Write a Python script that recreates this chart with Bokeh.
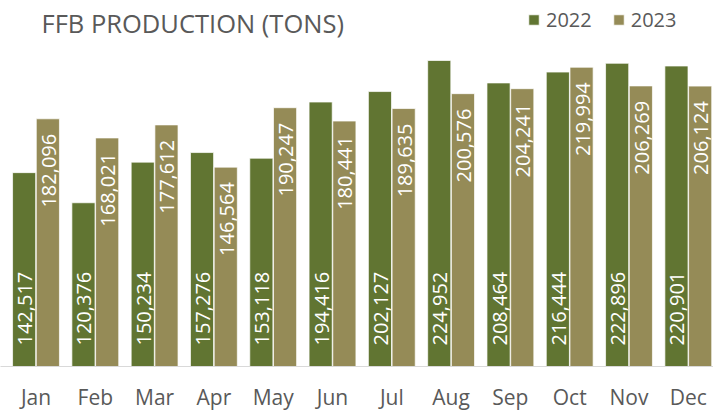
import math
from bokeh.plotting import figure
from bokeh.models import Range1d, FixedTicker, Legend, LegendItem, Label, ColumnDataSource
from bokeh.core.properties import value
from bokeh.embed import file_html
from bokeh.resources import INLINE

months = ["Jan", "Feb", "Mar", "Apr", "May", "Jun", "Jul", "Aug", "Sep", "Oct", "Nov", "Dec"]
prod_2022 = [142517, 120376, 150234, 157276, 153118, 194416, 202127, 224952, 208464, 216444, 222896, 220901]
prod_2023 = [182096, 168021, 177612, 146564, 190247, 180441, 189635, 200576, 204241, 219994, 206269, 206124]
series_names = ["2022", "2023"]
title_text = "FFB PRODUCTION (TONS)"

C22 = "#617532"
C23 = "#958b57"
FONT = "Open Sans"

W, H = 713, 413
FRAME_H = 366
PPU = 59.3
X0 = -35.5 / PPU
X1 = X0 + W / PPU
Y1 = 224952 * FRAME_H / 306.0

def px_x(px):
    return X0 + px / PPU

def px_y(py):
    return (FRAME_H - py) / FRAME_H * Y1

p = figure(frame_width=W, frame_height=FRAME_H, output_backend="svg", toolbar_location=None,
           x_range=Range1d(X0, X1), y_range=Range1d(0, Y1),
           y_axis_location=None, min_border_left=0, min_border_right=0,
           min_border_top=0, min_border_bottom=H - FRAME_H)
p.outline_line_color = None
p.grid.visible = False
p.background_fill_color = "white"
p.border_fill_color = "white"

idx = list(range(len(months)))
src = ColumnDataSource(dict(
    x22=[i - 0.2 for i in idx], x23=[i + 0.2 for i in idx],
    y22=prod_2022, y23=prod_2023,
    l22=[f"{v:,}" for v in prod_2022], l23=[f"{v:,}" for v in prod_2023],
    zero=[0] * len(idx),
))

bw = 0.39
r22 = p.vbar(x="x22", top="y22", width=bw, source=src, fill_color=C22,
             line_color="white", line_alpha=0.7, line_width=1)
r23 = p.vbar(x="x23", top="y23", width=bw, source=src, fill_color=C23,
             line_color="white", line_alpha=0.7, line_width=1)

p.text(x="x22", y="zero", text="l22", source=src, angle=math.pi / 2,
       text_align="left", text_baseline="middle", y_offset=-21, x_offset=1,
       text_color="white", text_font=value(FONT), text_font_size="20px")
p.text(x="x23", y="y23", text="l23", source=src, angle=math.pi / 2,
       text_align="right", text_baseline="middle", y_offset=15, x_offset=1,
       text_color="white", text_font=value(FONT), text_font_size="20px")

p.xaxis.ticker = FixedTicker(ticks=idx)
p.xaxis.major_label_overrides = {i: m for i, m in enumerate(months)}
p.xaxis.major_tick_line_color = None
p.xaxis.minor_tick_line_color = None
p.xaxis.axis_line_color = "#d9d9d9"
p.xaxis.major_label_text_font = FONT
p.xaxis.major_label_text_font_size = "21px"
p.xaxis.major_label_text_color = "#595959"
p.xaxis.major_label_standoff = 10

p.add_layout(Label(x=px_x(41), y=px_y(22), text=title_text, text_align="left",
                   text_baseline="middle", text_font=FONT, text_font_size="25.5px",
                   text_color="#595959"))

legend = Legend(items=[LegendItem(label=series_names[0], renderers=[r22]),
                       LegendItem(label=series_names[1], renderers=[r23])],
                orientation="horizontal", location=(527, FRAME_H - 33),
                padding=0, margin=0, spacing=20, label_standoff=6,
                glyph_width=13, glyph_height=13,
                label_text_font=FONT, label_text_font_size="20px",
                label_text_color="#595959", background_fill_alpha=0,
                border_line_color=None)
p.add_layout(legend, "center")

open("out.html", "w").write(file_html(p, INLINE))
